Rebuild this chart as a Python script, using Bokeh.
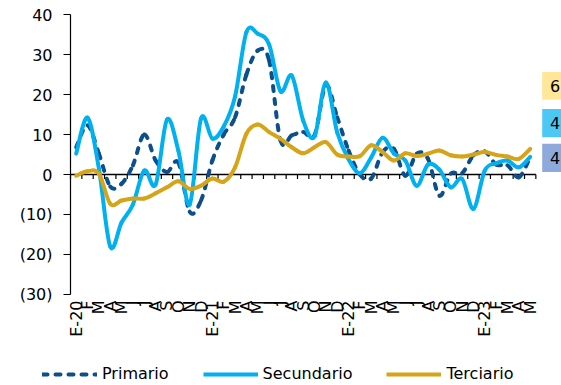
import math
from bokeh.plotting import figure
from bokeh.models import Range1d, Legend, LegendItem, ColumnDataSource
from bokeh.core.properties import value
from bokeh.embed import file_html
from bokeh.resources import INLINE

# Monthly labels, Jan-2020 .. May-2023
months = ["E-20", "F", "M", "A", "M", "J", "J", "A", "S", "O", "N", "D",
          "E-21", "F", "M", "A", "M", "J", "J", "A", "S", "O", "N", "D",
          "E-22", "F", "M", "A", "M", "J", "J", "A", "S", "O", "N", "D",
          "E-23", "F", "M", "A", "M"]

primario = [6.8, 12.3, 5.2, -3.0, -2.3, 2.3, 10.0, 3.5, 0.6, 3.0, -9.3, -6.5,
            3.5, 10.0, 14.3, 25.0, 31.0, 28.5, 8.5, 9.8, 10.6, 9.8, 22.3, 14.3,
            6.0, 0.0, -1.0, 5.6, 6.4, -0.3, 5.2, 3.9, -5.3, 0.2, 0.3, 4.8,
            5.8, 2.5, 2.3, -0.7, 4.3]

secundario = [5.2, 14.2, 1.5, -18.0, -12.0, -7.5, 1.0, -2.5, 13.7, 6.0, -7.5, 14.0,
              9.0, 12.0, 19.5, 35.6, 35.2, 32.5, 20.8, 24.7, 13.5, 9.5, 23.0, 10.5,
              3.8, 0.3, 4.3, 9.2, 5.2, 3.5, -2.8, 2.5, 1.2, -3.2, -1.1, -8.6,
              1.0, 2.8, 3.5, 1.8, 4.4]

terciario = [-0.3, 0.8, 0.2, -7.3, -6.5, -6.0, -6.0, -4.7, -3.2, -1.7, -3.6, -2.8,
             -1.0, -1.8, 1.8, 10.2, 12.5, 10.6, 8.9, 6.8, 5.3, 6.8, 8.1, 5.0,
             4.5, 4.6, 7.3, 5.6, 3.5, 5.3, 4.6, 5.2, 6.0, 4.8, 4.5, 5.0,
             5.6, 4.9, 4.5, 3.9, 6.4]

y_ticks = [-30, -20, -10, 0, 10, 20, 30, 40]

C_PRI = "#0D4F8B"
C_SEC = "#00B0F0"
C_TER = "#D6A419"
FONT = "DejaVu Sans"

idx = list(range(len(months)))

# one month = 11.35 px, ten points = 40 px; the frame fills the whole canvas
PX_X = 11.35
PX_Y = 4.0
AXIS_X = -0.5
p = figure(width=561, height=385, output_backend="svg", toolbar_location=None,
           x_range=Range1d(AXIS_X - 70 / PX_X, AXIS_X + 491 / PX_X),
           y_range=Range1d(-211 / PX_Y, 174 / PX_Y),
           x_axis_location=None, y_axis_location=None,
           min_border_left=0, min_border_right=0, min_border_top=0, min_border_bottom=0)
p.outline_line_color = None
p.xgrid.visible = False
p.ygrid.visible = False
p.background_fill_color = "white"

# value axis: line, outward ticks and bracketed negative labels
tick_len = 7 / PX_X
p.segment(x0=[AXIS_X], y0=[min(y_ticks)], x1=[AXIS_X], y1=[max(y_ticks)],
          line_color="black", line_width=1.2)
p.segment(x0=[AXIS_X - tick_len] * len(y_ticks), y0=y_ticks,
          x1=[AXIS_X] * len(y_ticks), y1=y_ticks, line_color="black", line_width=1.2)
y_labels = [f"({abs(t)})" if t < 0 else str(t) for t in y_ticks]
p.text(x=[AXIS_X - 18 / PX_X] * len(y_ticks), y=y_ticks, text=y_labels,
       text_align="right", text_baseline="middle", text_font=value(FONT),
       text_font_size="16px", text_color="black")


def smooth_segments(xs, ys):
    """Cubic Bezier pieces through every point (Catmull-Rom style control points)."""
    n = len(xs)
    d = dict(x0=[], y0=[], x1=[], y1=[], cx0=[], cy0=[], cx1=[], cy1=[])
    for i in range(n - 1):
        a = max(i - 1, 0)
        b = min(i + 2, n - 1)
        d["x0"].append(xs[i]); d["y0"].append(ys[i])
        d["x1"].append(xs[i + 1]); d["y1"].append(ys[i + 1])
        d["cx0"].append(xs[i] + (xs[i + 1] - xs[a]) / 6.0)
        d["cy0"].append(ys[i] + (ys[i + 1] - ys[a]) / 6.0)
        d["cx1"].append(xs[i + 1] - (xs[b] - xs[i]) / 6.0)
        d["cy1"].append(ys[i + 1] - (ys[b] - ys[i]) / 6.0)
    return ColumnDataSource(d)


# zero line with month tick marks hanging below it
p.segment(x0=[-0.5], y0=[0], x1=[len(months) - 0.5], y1=[0],
          line_color="black", line_width=1.6)
tick_x = [k - 0.5 for k in range(len(months) + 1)]
p.segment(x0=tick_x, y0=[0] * len(tick_x), x1=tick_x, y1=[-1.1] * len(tick_x),
          line_color="black", line_width=1.2)

dash = "5 8"
p.bezier(x0="x0", y0="y0", x1="x1", y1="y1", cx0="cx0", cy0="cy0", cx1="cx1", cy1="cy1",
         source=smooth_segments(idx, primario), line_color=C_PRI, line_width=4,
         line_dash=dash, line_cap="round")
p.bezier(x0="x0", y0="y0", x1="x1", y1="y1", cx0="cx0", cy0="cy0", cx1="cx1", cy1="cy1",
         source=smooth_segments(idx, secundario), line_color=C_SEC, line_width=4,
         line_cap="round")
p.bezier(x0="x0", y0="y0", x1="x1", y1="y1", cx0="cx0", cy0="cy0", cx1="cx1", cy1="cy1",
         source=smooth_segments(idx, terciario), line_color=C_TER, line_width=4,
         line_cap="round")

# month labels, rotated, under the plotting area
p.text(x=idx, y=[min(y_ticks) - 1.5] * len(idx), text=months, angle=math.pi / 2,
       text_align="right", text_baseline="middle", text_font=value(FONT),
       text_font_size="16px", text_color="black")

# latest-value tags on the right edge
tags = [(terciario[-1], "#FFE699", 18.7, 25.6),
        (secundario[-1], "#4DC8F5", 9.3, 16.4),
        (primario[-1], "#8EA9DB", 0.6, 7.7)]
for v, col, bot, top in tags:
    p.quad(left=[41.06], right=[43.5], bottom=[bot], top=[top],
           fill_color=col, line_color=None)
    p.text(x=[42.2], y=[(bot + top) / 2], text=[f"{v:.0f}"], text_align="center",
           text_baseline="middle", text_font=value(FONT), text_font_size="16px",
           text_color="black")

# legend sample lines (kept outside the visible x range)
off_x = [-40, -39]
off_y = [0, 0]
r_pri = p.line(x=off_x, y=off_y, line_color=C_PRI, line_width=4, line_dash=dash,
               line_cap="round")
r_sec = p.line(x=off_x, y=off_y, line_color=C_SEC, line_width=4)
r_ter = p.line(x=off_x, y=off_y, line_color=C_TER, line_width=4)
legend = Legend(items=[LegendItem(label="Primario", renderers=[r_pri]),
                       LegendItem(label="Secundario", renderers=[r_sec]),
                       LegendItem(label="Terciario", renderers=[r_ter])],
                location=(42, 2), orientation="horizontal",
                glyph_width=55, glyph_height=16, label_height=16,
                label_standoff=5, spacing=34, padding=0, margin=0,
                border_line_color=None, background_fill_alpha=0,
                label_text_font=FONT, label_text_font_size="16px",
                label_text_color="black")
p.add_layout(legend)

open("out.html", "w").write(file_html(p, INLINE))
